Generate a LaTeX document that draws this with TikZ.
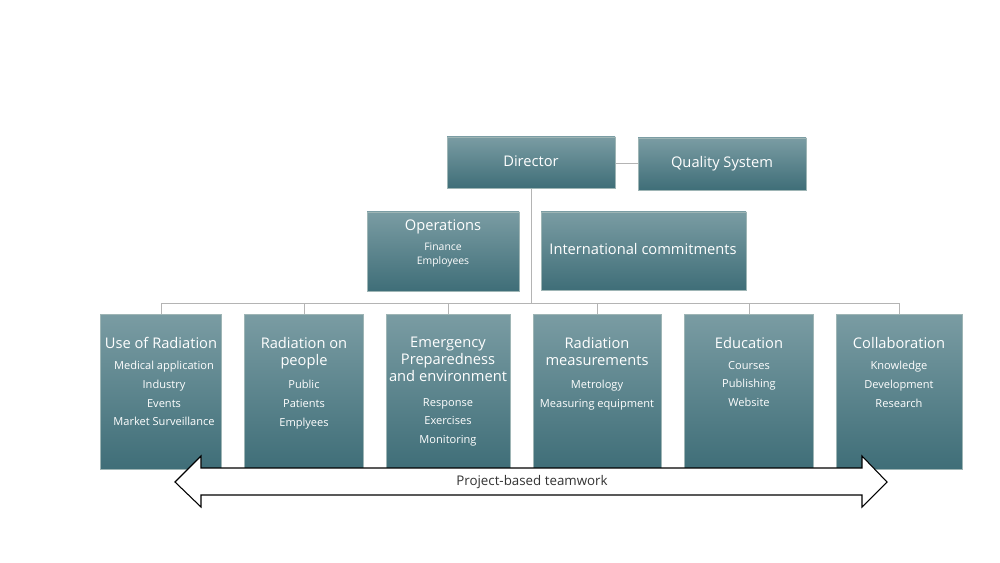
\documentclass[tikz,border=0pt]{standalone}
\usepackage{fontspec}
\setmainfont{Open Sans}
\begin{document}
\begin{tikzpicture}[x=0.75pt,y=-0.75pt,
  box/.style={draw=white!70!teal!60!gray,line width=0.5pt,top color=boxtop,bottom color=boxbot,inner sep=0pt},
  ttl/.style={text=white,font=\fontsize{11}{12.5}\selectfont,align=center,anchor=north,inner sep=0pt},
  sub/.style={text=white,font=\fontsize{8.3}{14}\selectfont,align=center,anchor=north,inner sep=0pt},
  conn/.style={draw=linegray,line width=0.6pt}]
\definecolor{boxtop}{HTML}{7A9CA3}
\definecolor{boxbot}{HTML}{3F6E78}
\definecolor{linegray}{HTML}{B4B4B4}
\useasboundingbox (0,0) rectangle (1000,563);
\fill[white] (0,0) rectangle (1000,563);
% connectors
\coordinate (hub) at (531,303);
\coordinate (hl) at (161,303);
\coordinate (hr) at (899,303);
\draw[conn] (531,188) -- (hub);
\draw[conn] (hl) -- (hr);
\foreach \x in {161,304,448,597,749,899}{\draw[conn] (\x,303) -- (\x,314);}
\draw[conn] (615,163) -- (638,163);
% boxes
\path[box] (447,137) rectangle (615,188) coordinate (dir);
\node[ttl] at (531,155) {Director};
\path[box] (638,138) rectangle (806,190);
\node[ttl] at (722,156) {Quality System};
\path[box] (367,212) rectangle (519,291);
\node[ttl] at (443,219) {Operations};
\node[sub,font=\fontsize{7.8}{10.5}\selectfont] at (443,243) {Finance\\Employees};
\path[box] (541,212) rectangle (746,290);
\node[ttl] at (643,243) {International commitments};
\foreach \a/\b in {100/221,244/363,386/510,533/661,684/813,836/962}{\path[box] (\a,314) rectangle (\b,469);}
\node[ttl] at (161,337) {Use of Radiation};
\node[sub] at (164,361) {Medical application\\Industry\\Events\\Market Surveillance};
\node[ttl] at (304,337) {Radiation on\\people};
\node[sub] at (304,380) {Public\\Patients\\Emplyees};
\node[ttl] at (448,337) {Emergency\\Preparedness\\and environment};
\node[sub] at (448,398) {Response\\Exercises\\Monitoring};
\node[ttl] at (597,337) {Radiation\\measurements};
\node[sub] at (597,380) {Metrology\\Measuring equipment};
\node[ttl] at (749,337) {Education};
\node[sub] at (749,361) {Courses\\Publishing\\Website};
\node[ttl] at (899,337) {Collaboration};
\node[sub] at (899,361) {Knowledge\\Development\\Research};
% arrow
\draw[fill=white,line width=0.8pt,line join=miter] (175,482) -- (201,456) -- (201,468) -- (862,468) -- (862,456) -- (887,482) -- (862,507) -- (862,495) -- (201,495) -- (201,507) -- cycle;
\node[font=\fontsize{10}{12}\selectfont,text=black!80] (pt) at (532,482) {Project-based teamwork};
\end{tikzpicture}
\end{document}
